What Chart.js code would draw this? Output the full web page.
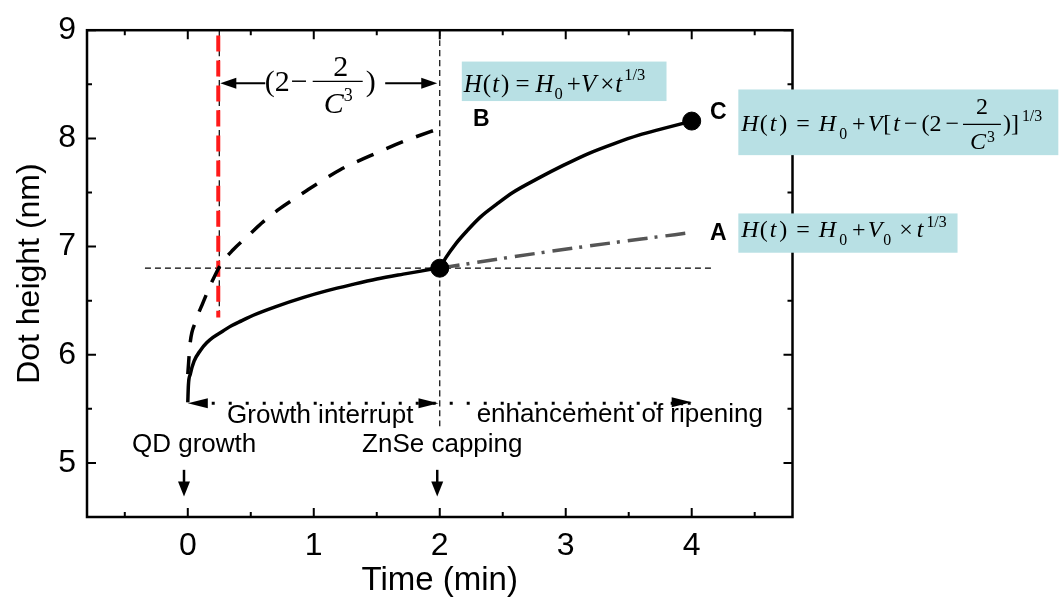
<!DOCTYPE html>
<html>
<head>
<meta charset="utf-8">
<script src="https://cdn.jsdelivr.net/npm/chart.js@4.4.0/dist/chart.umd.min.js"></script>
<style>
  html, body { margin: 0; padding: 0; background: #fff; }
  #wrap { width: 1061px; height: 607px; position: relative; }
</style>
</head>
<body>
<div id="wrap"><canvas id="myChart"></canvas></div>
<script>
// axis ticks
const xTickVals = [0, 1, 2, 3, 4];
const xMinorVals = [-0.5, 0.5, 1.5, 2.5, 3.5, 4.5];
const yTickVals = [5, 6, 7, 8, 9];
const yMinorVals = [5.5, 6.5, 7.5, 8.5];

// solid curve during growth interrupt (0 -> 2 min)
const growthT = [0, 0.005, 0.02, 0.05, 0.1, 0.15, 0.2, 0.28, 0.35, 0.43, 0.52, 0.7, 0.92, 1.1, 1.31, 1.5, 1.71, 1.85, 2.0];
const growthH = [5.56, 5.72, 5.82, 5.94, 6.04, 6.11, 6.16, 6.22, 6.27, 6.315, 6.365, 6.445, 6.53, 6.59, 6.65, 6.70, 6.745, 6.773, 6.805];

// curve B (dashed)
const bT = [0, 0.02, 0.06, 0.12, 0.19, 0.26, 0.36, 0.47, 0.6, 0.73, 0.87, 1.0, 1.21, 1.45, 1.71, 1.92, 2.05];
const bH = [5.82, 6.12, 6.3, 6.48, 6.67, 6.83, 6.97, 7.09, 7.23, 7.35, 7.46, 7.56, 7.71, 7.84, 7.97, 8.06, 8.11];

// curve C (solid, after ZnSe capping)
const cT = [2.0, 2.05, 2.13, 2.22, 2.32, 2.45, 2.58, 2.78, 2.98, 3.18, 3.38, 3.58, 3.77, 4.0];
const cH = [6.8, 6.9, 7.03, 7.15, 7.27, 7.39, 7.5, 7.63, 7.75, 7.86, 7.95, 8.03, 8.09, 8.16];

// curve A (dash-dot)
const aT = [2.0, 2.55, 3.15, 3.6, 4.0];
const aH = [6.8, 6.9, 7.0, 7.07, 7.13];

// marked points
const dotT = [2, 4];
const dotH = [6.8, 8.16];

// guide lines
const hGuideT = [-0.34, 4.16];
const hGuideH = [6.8, 6.8];
const vGuide2T = [2, 2];
const vGuide2H = [9, 5.33];
const vGuideT = [0.25, 0.25];
const vGuideH = [9, 6.36];
const redT = [0.242, 0.242];
const redH = [8.95, 6.345];
const interruptT = [0.19, 4.0];
const interruptH = [5.552, 5.552];

const pts = (xs, ys) => xs.map((x, i) => ({ x: x, y: ys[i] }));

Chart.defaults.font.family = '"Liberation Sans", Arial, sans-serif';
Chart.defaults.color = '#000';

const SERIF = '"Liberation Serif", "Times New Roman", serif';

// small rich text writer for the formula boxes
function drawMath(ctx, segs, x, base, size) {
  let cx = x;
  const small = size * 0.66;
  segs.forEach(s => {
    if (s.frac) {
      ctx.font = size + 'px ' + SERIF;
      const nw = ctx.measureText(s.num).width;
      ctx.font = 'italic ' + size + 'px ' + SERIF;
      const cw = ctx.measureText(s.den).width;
      ctx.font = small + 'px ' + SERIF;
      const sw = ctx.measureText(s.sup).width;
      const w = Math.max(nw, cw + sw) + 14;
      const bar = base - size * 0.3;
      ctx.lineWidth = 1.2;
      ctx.beginPath(); ctx.moveTo(cx, bar); ctx.lineTo(cx + w, bar); ctx.stroke();
      ctx.font = size + 'px ' + SERIF;
      ctx.fillText(s.num, cx + (w - nw) / 2, bar - size * 0.42);
      const dl = cx + (w - cw - sw) / 2;
      ctx.font = 'italic ' + size + 'px ' + SERIF;
      ctx.fillText(s.den, dl, bar + size * 1.05);
      ctx.font = small + 'px ' + SERIF;
      ctx.fillText(s.sup, dl + cw + 1, bar + size * 0.72);
      cx += w + (s.gap || 0);
      return;
    }
    const fs = (s.sub || s.sup) ? small : size;
    ctx.font = (s.it ? 'italic ' : '') + fs + 'px ' + SERIF;
    const dy = s.sub ? size * 0.3 : s.sup ? -size * 0.45 : 0;
    ctx.fillText(s.t, cx, base + dy);
    cx += ctx.measureText(s.t).width + (s.gap || 0);
  });
}

const headSegs = [
  { t: 'H', it: 1, gap: 1 }, { t: '(', gap: 2 }, { t: 't', it: 1, gap: 3 }, { t: ')', gap: 9 }, { t: '=', gap: 9 },
  { t: 'H', it: 1, gap: 3 }, { t: '0', sub: 1, gap: 5 }, { t: '+', gap: 2 }
];
const boxes = [
  { x0: 2.175, x1: 3.80, y0: 8.71, y1: 8.345, size: 25, dx: 2, dy: 30, segs: [
    { t: 'H', it: 1, gap: 1 }, { t: '(', gap: 1 }, { t: 't', it: 1, gap: 2 }, { t: ')', gap: 6 }, { t: '=', gap: 6 },
    { t: 'H', it: 1, gap: 1 }, { t: '0', sub: 1, gap: 4 }, { t: '+' }, { t: 'V', it: 1, gap: 4 }, { t: '×', gap: 1 },
    { t: 't', it: 1, gap: 2 }, { t: '1/3', sup: 1 } ] },
  { x0: 4.37, x1: 6.91, y0: 8.452, y1: 7.845, size: 24, dx: 3, dy: 42, segs: headSegs.concat([
    { t: 'V', it: 1, gap: 1 }, { t: '[', gap: 2 }, { t: 't', it: 1, gap: 4 }, { t: '−', gap: 4 }, { t: '(2', gap: 4 }, { t: '−', gap: 4 },
    { frac: 1, num: '2', den: 'C', sup: '3', gap: 2 }, { t: ')]', gap: 3 }, { t: '1/3', sup: 1 } ]) },
  { x0: 4.37, x1: 6.11, y0: 7.306, y1: 6.943, size: 24, dx: 3, dy: 24, segs: headSegs.concat([
    { t: 'V', it: 1, gap: 1 }, { t: '0', sub: 1, gap: 8 }, { t: '×', gap: 4 }, { t: 't', it: 1, gap: 3 }, { t: '1/3', sup: 1 } ]) }
];

const notes = [
  { text: 'Growth interrupt', x: 0.312, y: 5.373, align: 'left' },
  { text: 'enhancement of ripening', x: 2.293, y: 5.38, align: 'left' },
  { text: 'QD growth', x: 0.05, y: 5.1, align: 'center' },
  { text: 'ZnSe capping', x: 2.02, y: 5.1, align: 'center' }
];
const curveLabels = [
  { text: 'B', x: 2.264, y: 8.118 },
  { text: 'C', x: 4.145, y: 8.18 },
  { text: 'A', x: 4.145, y: 7.06 }
];

function head(ctx, tx, ty, ang, len, half) {
  const c = Math.cos(ang), s = Math.sin(ang);
  ctx.beginPath();
  ctx.moveTo(tx, ty);
  ctx.lineTo(tx - len * c - half * s, ty - len * s + half * c);
  ctx.lineTo(tx - len * c + half * s, ty - len * s - half * c);
  ctx.closePath();
  ctx.fill();
}

const decor = {
  id: 'decor',
  afterDraw(chart) {
    const { ctx, chartArea: a, scales } = chart;
    const X = v => scales.x.getPixelForValue(v);
    const Y = v => scales.y.getPixelForValue(v);
    ctx.save();
    ctx.fillStyle = '#000';
    ctx.strokeStyle = '#000';

    // frame + inward ticks
    ctx.lineWidth = 2.5;
    ctx.strokeRect(a.left, a.top, a.right - a.left, a.bottom - a.top);
    ctx.lineWidth = 2;
    ctx.beginPath();
    xTickVals.concat(xMinorVals).forEach(v => {
      const l = xTickVals.includes(v) ? 9 : 5;
      ctx.moveTo(X(v), a.bottom); ctx.lineTo(X(v), a.bottom - l);
      ctx.moveTo(X(v), a.top); ctx.lineTo(X(v), a.top + l);
    });
    yTickVals.concat(yMinorVals).forEach(v => {
      const l = yTickVals.includes(v) ? 9 : 5;
      ctx.moveTo(a.left, Y(v)); ctx.lineTo(a.left + l, Y(v));
      ctx.moveTo(a.right, Y(v)); ctx.lineTo(a.right - l, Y(v));
    });
    ctx.stroke();

    // interrupt arrow heads
    head(ctx, X(0), Y(5.552), Math.PI, 20, 5);
    head(ctx, X(1.99), Y(5.552), 0, 20, 5);
    head(ctx, X(4.0), Y(5.56), 0, 20, 5);

    // down arrows
    [-0.03, 1.98].forEach(t => {
      ctx.lineWidth = 2.5;
      ctx.beginPath(); ctx.moveTo(X(t), Y(4.936)); ctx.lineTo(X(t), Y(4.76)); ctx.stroke();
      head(ctx, X(t), Y(4.69), Math.PI / 2, 15, 6);
    });

    // (2 - 2/C^3) double arrow
    const ay = Y(8.51);
    ctx.lineWidth = 2;
    ctx.beginPath();
    ctx.moveTo(X(0.25) + 10, ay); ctx.lineTo(X(0.615), ay);
    ctx.moveTo(X(1.567), ay); ctx.lineTo(X(1.98) - 10, ay);
    ctx.stroke();
    head(ctx, X(0.25) + 1, ay, Math.PI, 16, 5.5);
    head(ctx, X(1.98), ay, 0, 16, 5.5);
    const bx = X(1.19), by = Y(8.527);
    ctx.font = '30px ' + SERIF;
    ctx.textBaseline = 'alphabetic';
    ctx.textAlign = 'right';
    ctx.fillText('(2', bx - 48, by + 10);
    ctx.textAlign = 'left';
    ctx.fillText('−', bx - 47, by + 10);
    ctx.lineWidth = 1.3;
    ctx.beginPath(); ctx.moveTo(bx - 25, by); ctx.lineTo(bx + 25, by); ctx.stroke();
    ctx.textAlign = 'center';
    ctx.fillText('2', bx + 3, by - 5);
    ctx.font = 'italic 30px ' + SERIF;
    ctx.fillText('C', bx - 4, by + 32);
    ctx.font = '18px ' + SERIF;
    ctx.textAlign = 'left';
    ctx.fillText('3', bx + 6, by + 20);
    ctx.font = '30px ' + SERIF;
    ctx.fillText(')', bx + 28, by + 10);

    // formula boxes
    boxes.forEach(b => {
      const l = X(b.x0), t = Y(b.y0);
      ctx.fillStyle = 'rgb(184,224,228)';
      ctx.fillRect(l, t, X(b.x1) - l, Y(b.y1) - t);
      ctx.fillStyle = '#000';
      ctx.textAlign = 'left';
      ctx.textBaseline = 'alphabetic';
      drawMath(ctx, b.segs, l + b.dx, t + b.dy, b.size);
    });

    // notes
    ctx.font = '26px "Liberation Sans", Arial, sans-serif';
    ctx.textBaseline = 'alphabetic';
    notes.forEach(n => {
      ctx.textAlign = n.align;
      ctx.fillText(n.text, X(n.x), Y(n.y));
    });
    ctx.font = 'bold 23px "Liberation Sans", Arial, sans-serif';
    ctx.textAlign = 'left';
    curveLabels.forEach(n => ctx.fillText(n.text, X(n.x), Y(n.y)));
    ctx.restore();
  }
};

const line = (data, color, width, dash, extra) => Object.assign({
  data: data, showLine: true, borderColor: color, borderWidth: width, borderDash: dash,
  pointRadius: 0, fill: false, cubicInterpolationMode: 'monotone'
}, extra || {});

const chart = new Chart(document.getElementById('myChart'), {
  type: 'scatter',
  data: {
    datasets: [
      { data: pts(dotT, dotH), pointRadius: 9, pointBackgroundColor: '#000', pointBorderColor: '#000', showLine: false },
      line(pts(growthT, growthH), '#000', 3.5, []),
      line(pts(cT, cH), '#000', 3.5, []),
      line(pts(bT, bH), '#000', 3.5, [18, 14]),
      line(pts(aT, aH), '#555', 3.5, [20, 7, 3, 8]),
      line(pts(redT, redH), '#ff1a1a', 4, [16, 9]),
      line(pts(interruptT, interruptH), '#000', 3, [3, 14]),
      line(pts(hGuideT, hGuideH), '#000', 1.2, [6, 4]),
      line(pts(vGuide2T, vGuide2H), '#000', 1.2, [6, 4]),
      line(pts(vGuideT, vGuideH), '#000', 1.2, [6, 4])
    ]
  },
  options: {
    responsive: true,
    maintainAspectRatio: false,
    animation: false,
    layout: { padding: { top: 23, right: 268.5, bottom: 0, left: 0 } },
    plugins: { legend: { display: false }, tooltip: { enabled: false } },
    scales: {
      x: {
        type: 'linear', min: -0.8, max: 4.8,
        grid: { display: false, drawTicks: false }, border: { display: false },
        afterBuildTicks: s => { s.ticks = xTickVals.map(v => ({ value: v })); },
        afterFit: s => { s.height = 90; },
        ticks: { font: { size: 32 }, padding: 10, maxRotation: 0 },
        title: { display: true, text: 'Time (min)', font: { size: 33 }, padding: { top: 6, bottom: 6 } }
      },
      y: {
        type: 'linear', min: 4.5, max: 9,
        grid: { display: false, drawTicks: false }, border: { display: false },
        afterBuildTicks: s => { s.ticks = yTickVals.map(v => ({ value: v })); },
        afterFit: s => { s.width = 87; },
        ticks: { font: { size: 32 }, padding: 11 },
        title: { display: true, text: 'Dot height (nm)', font: { size: 32 }, padding: { top: 11, bottom: 11 } }
      }
    }
  },
  plugins: [decor]
});
</script>
</body>
</html>
